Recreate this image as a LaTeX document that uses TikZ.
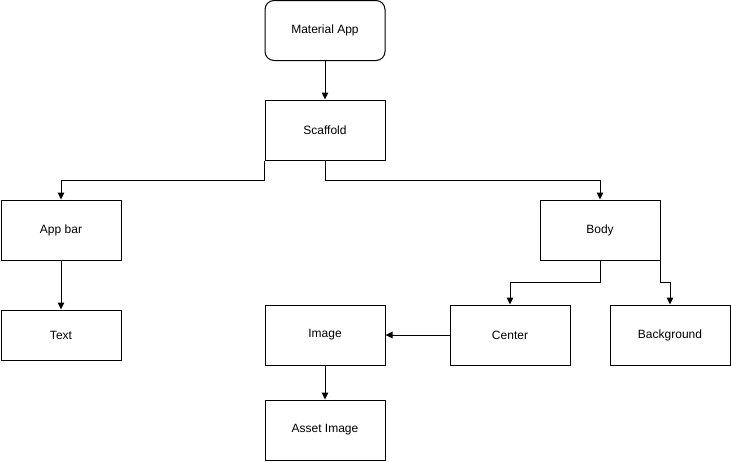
\documentclass[tikz,border=0pt]{standalone}
\usepackage{fontspec}
\setmainfont{Liberation Sans}
\usetikzlibrary{arrows.meta}
\begin{document}
\begin{tikzpicture}[x=1pt,y=-1pt,
  box/.style={draw=black,line width=1pt,minimum width=120pt,minimum height=60pt,inner sep=0pt,font=\fontsize{12}{14}\selectfont,fill=white},
  rbox/.style={box,rounded corners=9pt},
  conn/.style={draw=black,line width=1pt,-{Triangle[length=7pt,width=6.5pt]}}]
\useasboundingbox (0,0) rectangle (731,461);
\node[rbox] (mat) at (325,30.5) {Material App};
\node[box] (scaf) at (325,130) {Scaffold};
\node[box] (appbar) at (61,230) {App bar};
\node[box] (body) at (600,230) {Body};
\node[box,minimum height=50pt] (text) at (61,335) {Text};
\node[box] (image) at (325,335) {Image};
\node[box] (center) at (510,335) {Center};
\node[box] (bg) at (670,335) {Background};
\node[box] (asset) at (325,430) {Asset Image};
\draw[conn] (mat.south) -- (scaf.north);
\draw[conn] (scaf.south west) -- ++(0,20) -| (appbar.north);
\draw[conn] (scaf.south) -- ++(0,20) -| (body.north);
\draw[conn] (appbar.south) -- (text.north);
\draw[conn] (body.south) -- ++(0,22) -| (center.north);
\draw[conn] (body.south east) -- ++(0,22) -| (bg.north);
\draw[conn] (center.west) -- (image.east);
\draw[conn] (image.south) -- (asset.north);
\end{tikzpicture}
\end{document}
